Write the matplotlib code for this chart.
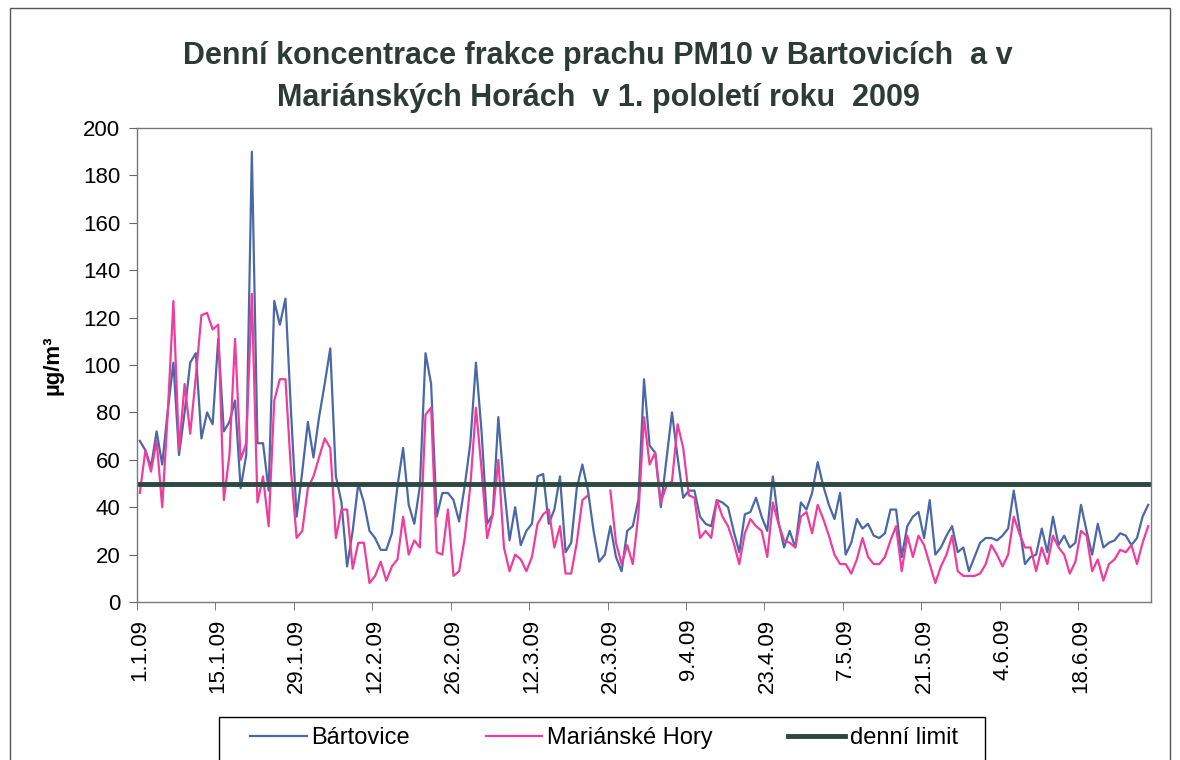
import numpy as np
import matplotlib
matplotlib.use("Agg")
import matplotlib.pyplot as plt
from matplotlib.patches import Rectangle

# denni hodnoty PM10, 1.1.2009 - 30.6.2009 (181 dni)
bartovice = [
    68, 64, 57, 72, 58, 81, 101, 62, 80, 101,
    105, 69, 80, 75, 111, 72, 76, 85, 48, 62,
    190, 67, 67, 47, 127, 117, 128, 80, 36, 55,
    76, 61, 78, 92, 107, 53, 42, 15, 30, 50,
    42, 30, 27, 22, 22, 29, 49, 65, 41, 33,
    49, 105, 92, 36, 46, 46, 43, 34, 49, 67,
    101, 72, 33, 37, 78, 49, 26, 40, 24, 30,
    33, 53, 54, 33, 39, 53, 21, 25, 48, 58,
    47, 30, 17, 20, 32, 19, 13, 30, 32, 43,
    94, 66, 63, 40, 60, 80, 61, 44, 47, 47,
    36, 33, 32, 43, 42, 40, 30, 21, 37, 38,
    44, 36, 30, 53, 34, 23, 30, 23, 42, 39,
    46, 59, 49, 41, 35, 46, 20, 25, 35, 31,
    33, 28, 27, 29, 39, 39, 19, 32, 36, 38,
    27, 43, 20, 23, 28, 32, 21, 23, 13, 19,
    25, 27, 27, 26, 28, 31, 47, 32, 16, 19,
    20, 31, 21, 36, 24, 28, 23, 25, 41, 30,
    20, 33, 23, 25, 26, 29, 28, 24, 27, 36,
    41,
]
marianske_hory = [
    46, 64, 55, 68, 40, 80, 127, 64, 92, 71,
    95, 121, 122, 115, 117, 43, 62, 111, 60, 67,
    130, 42, 53, 32, 85, 94, 94, 55, 27, 30,
    48, 53, 61, 69, 65, 27, 39, 39, 14, 25,
    25, 8, 11, 17, 9, 15, 18, 36, 20, 26,
    23, 79, 82, 21, 20, 39, 11, 13, 27, 49,
    82, 56, 27, 37, 60, 23, 13, 20, 18, 13,
    19, 33, 37, 39, 23, 32, 12, 12, 25, 43,
    45, np.nan, np.nan, np.nan, 47, 25, 16, 24, 16, 37,
    78, 58, 63, 42, 49, 51, 75, 65, 45, 44,
    27, 30, 27, 43, 36, 32, 25, 16, 29, 35,
    32, 30, 19, 42, 33, 26, 25, 23, 36, 38,
    29, 41, 35, 28, 20, 16, 16, 12, 18, 27,
    19, 16, 16, 19, 26, 32, 13, 28, 19, 28,
    24, 16, 8, 15, 20, 28, 13, 11, 11, 11,
    12, 16, 24, 20, 15, 20, 36, 29, 23, 23,
    13, 23, 16, 28, 23, 20, 12, 17, 30, 28,
    13, 18, 9, 16, 18, 22, 21, 24, 16, 25,
    32,
]
denni_limit = 50
tick_days = [0, 14, 28, 42, 56, 70, 84, 98, 112, 126, 140, 154, 168]
tick_labels = ['1.1.09', '15.1.09', '29.1.09', '12.2.09', '26.2.09', '12.3.09',
               '26.3.09', '9.4.09', '23.4.09', '7.5.09', '21.5.09', '4.6.09', '18.6.09']

plt.rcParams['font.family'] = ['Liberation Sans', 'DejaVu Sans']

W, H = 1180, 760
fig = plt.figure(figsize=(W / 100, H / 100), dpi=100)
ax = fig.add_axes([137 / W, 1 - 602 / H, (1151 - 137) / W, (602 - 128) / H])

days = np.arange(len(bartovice))
ax.plot(days, bartovice, color='#4a68a8', lw=1.6, label='Bártovice')
ax.plot(days, marianske_hory, color='#f03c9c', lw=1.6, label='Mariánské Hory')
ax.plot([days[0] - 0.5, days[-1] + 0.5], [denni_limit, denni_limit],
        color='#2c4840', lw=3.5, label='denní limit')

ax.set_xlim(-0.5, len(days) - 0.5)
ax.set_ylim(0, 200)
ax.set_yticks(range(0, 201, 20))
ax.tick_params(axis='y', labelsize=16, length=6, color='#666666', pad=6)

ax.set_xticks(tick_days)
ax.set_xticklabels(tick_labels, rotation=90, fontsize=16)
ax.tick_params(axis='x', which='major', length=0, pad=12)
ax.set_xticks([d - 0.5 for d in tick_days], minor=True)
ax.tick_params(axis='x', which='minor', length=6, color='#666666')

for s in ax.spines.values():
    s.set_color('#777777')
    s.set_linewidth(1.0)

ax.set_ylabel('µg/m³', fontsize=16, fontweight='bold', labelpad=14)

fig.text(598 / W, 1 - 77 / H,
         'Denní koncentrace frakce prachu PM10 v Bartovicích  a v\nMariánských Horách  v 1. pololetí roku  2009',
         ha='center', va='center', fontsize=22, fontweight='bold',
         color='#2e3a36', linespacing=1.5)

# legenda bez ramecku, ramecek zvlast (siroky jako v originale)
leg = fig.legend(loc='upper left', bbox_to_anchor=(250 / W, 1 - 727 / H), ncol=3,
                 frameon=False, prop={'size': 17}, borderaxespad=0, borderpad=0,
                 handlelength=2.4, handletextpad=0.2, columnspacing=3.2)
fig.add_artist(Rectangle((219 / W, -0.05), (985 - 219) / W, 0.05 + 1 - 717 / H,
                         transform=fig.transFigure, fill=False,
                         edgecolor='black', lw=1.0))

fig.add_artist(Rectangle((10 / W, -0.02), 1160 / W, 1 - 8 / H + 0.02,
                         transform=fig.transFigure, fill=False,
                         edgecolor='#555555', lw=1.0))

fig.savefig('out.png', dpi=100)
